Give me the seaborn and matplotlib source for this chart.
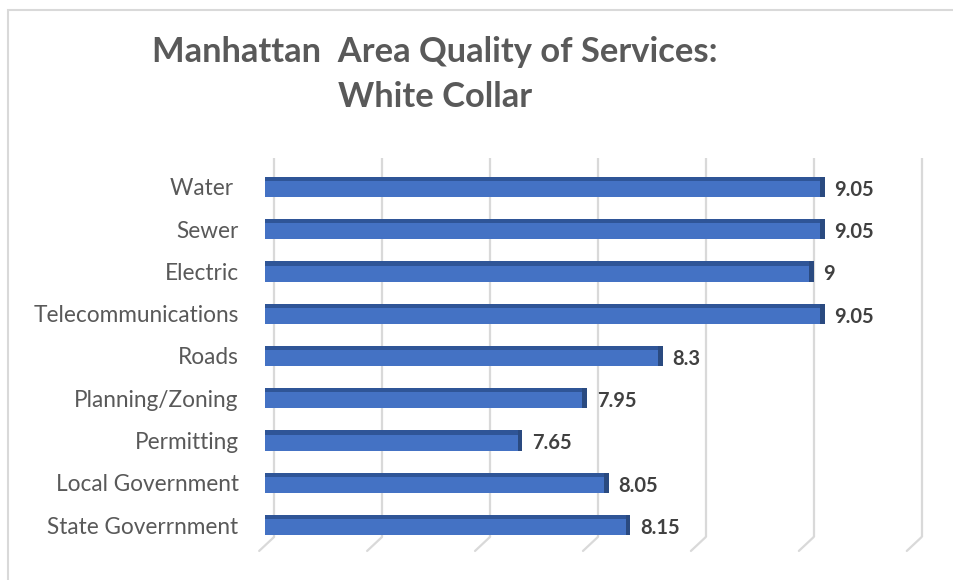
import matplotlib
matplotlib.use("Agg")
import matplotlib.pyplot as plt
import matplotlib.patches as mpatches
import numpy as np
import pandas as pd
import seaborn as sns

categories = [
    "Water ",
    "Sewer",
    "Electric",
    "Telecommunications",
    "Roads",
    "Planning/Zoning",
    "Permitting",
    "Local Government",
    "State Goverrnment",
]
scores = [9.05, 9.05, 9.0, 9.05, 8.3, 7.95, 7.65, 8.05, 8.15]
grid_ticks = [6.5, 7.0, 7.5, 8.0, 8.5, 9.0, 9.5]
title_lines = ["Manhattan  Area Quality of Services:", "White Collar"]

df = pd.DataFrame({"service": categories, "score": scores})

sns.set_theme(style="white")
plt.rcParams["font.family"] = ["Lato", "DejaVu Sans"]

bar_color = "#4472C4"
top_color = "#2F5597"
cap_color = "#2A4A80"
text_grey = "#595959"
grid_grey = "#D9D9D9"

fig = plt.figure(figsize=(9.54, 5.8), dpi=100)
ax = fig.add_axes([265 / 954, 1 - 537 / 580, 661 / 954, 379 / 580])

xmin, xmax = 6.458, 9.52
ymin, ymax = 8.284, -0.686
bar_h = 0.48

# back wall gridlines with a slanted floor tail
for g in grid_ticks:
    ax.plot([g, g], [ymax, ymin], color=grid_grey, lw=1.6, zorder=0)
    ax.plot([g, g - 0.069], [ymin, ymin + 0.33], color=grid_grey, lw=1.6,
            zorder=0, clip_on=False)

sns.barplot(data=df, x="score", y="service", orient="h", color=bar_color,
            width=bar_h, saturation=1, linewidth=0, ax=ax, zorder=2)

pos = np.arange(len(scores))
vals = np.array(scores)
band = 0.1
ax.barh(pos - bar_h / 2 + band / 2, vals - xmin, left=xmin, height=band,
        color=top_color, linewidth=0, zorder=3)
cap = 0.022
ax.barh(pos, cap, left=vals - cap, height=bar_h, color=cap_color,
        linewidth=0, zorder=4)

for i, v in enumerate(scores):
    ax.annotate(f"{v:g}", (v, i), xytext=(7, -2), textcoords="offset points",
                ha="left", va="center", fontsize=14.5, fontweight="bold",
                color="#404040")

ax.set_xlim(xmin, xmax)
ax.set_ylim(ymin, ymax)
ax.set_xticks([])
ax.set_xlabel("")
ax.set_ylabel("")
ax.tick_params(axis="y", length=0, pad=19, labelsize=16.3, labelcolor=text_grey)
for s in ax.spines.values():
    s.set_visible(False)

# two-line title, each line centred
for line, base in zip(title_lines, [62, 107]):
    fig.text(435 / 954, 1 - base / 580, line, ha="center", va="baseline",
             fontsize=24.8, fontweight="bold", color=text_grey)

# chart area border
fig.patches.append(mpatches.Rectangle((8 / 954, -0.1), 1.1, 1 - 10 / 580 + 0.1,
                                      transform=fig.transFigure, fill=False,
                                      edgecolor=grid_grey, lw=1.5))

fig.savefig("out.png", dpi=100, facecolor="white")
